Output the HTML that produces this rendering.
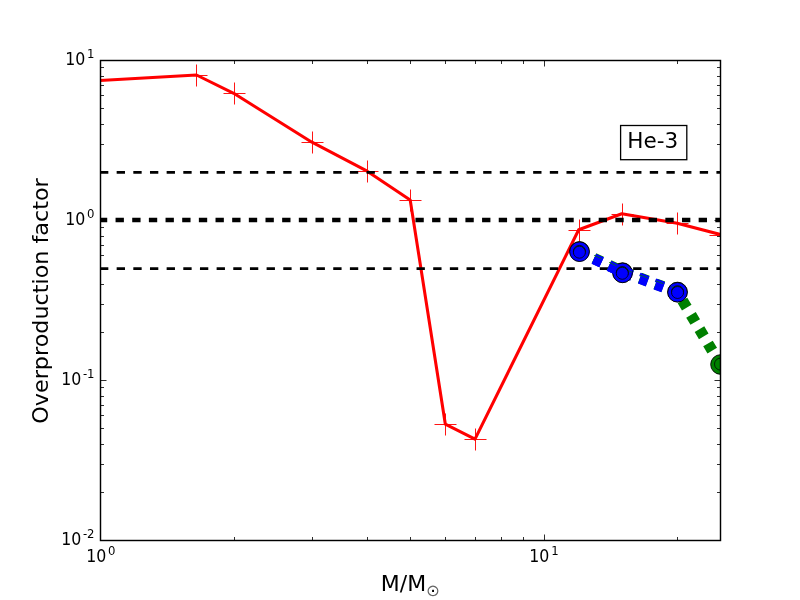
<!DOCTYPE html>
<html><head><meta charset="utf-8"><title>He-3 overproduction factor</title>
<style>html,body{margin:0;padding:0;background:#fff;overflow:hidden}svg{display:block;will-change:transform}text{font-family:"DejaVu Sans","Liberation Sans",sans-serif;fill:#000}</style></head><body>
<svg width="800" height="600" viewBox="0 0 800 600">
<rect width="800" height="600" fill="#fff"/>
<defs><clipPath id="ax"><rect x="100" y="60" width="620" height="480"/></clipPath></defs>
<g clip-path="url(#ax)">
<polyline points="100.00,80.60 196.50,75.00 233.70,93.30 311.90,142.20 367.20,171.20 410.20,199.90 445.30,424.10 475.00,439.10 578.70,229.80 621.80,213.80 677.20,223.20 720.30,234.50" fill="none" stroke="#f00" stroke-width="3.05" stroke-linejoin="round" stroke-linecap="butt"/>
<path d="M89.50 80.50H111.50M100.50 69.50V91.50M185.50 75.50H207.50M196.50 64.50V86.50M223.50 93.50H245.50M234.50 82.50V104.50M301.50 142.50H323.50M312.50 131.50V153.50M356.50 171.50H378.50M367.50 160.50V182.50M399.50 200.50H421.50M410.50 189.50V211.50M434.50 424.50H456.50M445.50 413.50V435.50M464.50 439.50H486.50M475.50 428.50V450.50M568.50 230.50H590.50M579.50 219.50V241.50M611.50 214.50H633.50M622.50 203.50V225.50M666.50 223.50H688.50M677.50 212.50V234.50M709.50 235.50H731.50M720.50 224.50V246.50" stroke="#f00" stroke-width="1" stroke-opacity="0.92" fill="none"/>
<line x1="100" x2="721" y1="172.29" y2="172.29" stroke="#000" stroke-width="2.78" stroke-dasharray="8.33 8.33"/>
<line x1="98.9" x2="721" y1="220.00" y2="220.00" stroke="#000" stroke-width="4.65" stroke-dasharray="8.33 8.33"/>
<line x1="100" x2="721" y1="268.61" y2="268.61" stroke="#000" stroke-width="2.78" stroke-dasharray="8.33 8.33"/>
<polyline points="579.50,251.55 622.50,271.65 677.50,292.05 720.50,364.55" fill="none" stroke="#008000" stroke-width="11.11" stroke-dasharray="8.33 8.33" stroke-dashoffset="0.70" stroke-opacity="1"/>
<circle cx="579.50" cy="251.40" r="9.80" fill="#008000" stroke="#000" stroke-width="0.9"/>
<circle cx="622.55" cy="272.60" r="9.80" fill="#008000" stroke="#000" stroke-width="0.9"/>
<circle cx="677.50" cy="292.00" r="9.80" fill="#008000" stroke="#000" stroke-width="0.9"/>
<circle cx="720.50" cy="364.50" r="9.80" fill="#008000" stroke="#000" stroke-width="0.9"/>
<polyline points="579.50,252.10 622.50,272.20 677.50,292.60" fill="none" stroke="#00f" stroke-width="10.61" stroke-dasharray="8.33 8.33" stroke-dashoffset="0.70" stroke-opacity="1"/>
<circle cx="579.50" cy="251.70" r="9.80" fill="#00f" stroke="#000" stroke-width="0.9"/>
<circle cx="622.55" cy="272.90" r="9.80" fill="#00f" stroke="#000" stroke-width="0.9"/>
<circle cx="677.50" cy="292.30" r="9.80" fill="#00f" stroke="#000" stroke-width="0.9"/>
<polyline points="579.50,252.10 622.50,272.20" fill="none" stroke="#00f" stroke-width="10.61" stroke-dasharray="8.33 8.33" stroke-dashoffset="0.70" stroke-opacity="1"/>
<polyline points="622.50,268.00 677.50,288.40" fill="none" stroke="#00f" stroke-width="3.60" stroke-dasharray="8.33 8.33" stroke-dashoffset="14.83" stroke-opacity="1"/>
<polyline points="579.50,248.50 622.50,268.60 677.50,289.00" fill="none" stroke="#008000" stroke-width="0.80" stroke-dasharray="8.33 8.33" stroke-dashoffset="0.70" stroke-opacity="0.95"/>
<circle cx="579.40" cy="251.40" r="6.00" fill="#008000" stroke="#000" stroke-width="0.75"/>
<circle cx="622.30" cy="272.50" r="6.00" fill="#008000" stroke="#000" stroke-width="0.75"/>
<circle cx="677.55" cy="291.70" r="6.00" fill="#008000" stroke="#000" stroke-width="0.75"/>
<circle cx="720.50" cy="364.10" r="6.00" fill="#008000" stroke="#000" stroke-width="0.75"/>
<circle cx="579.40" cy="252.20" r="6.00" fill="#00f" stroke="#000" stroke-width="0.75"/>
<circle cx="622.30" cy="273.30" r="6.00" fill="#00f" stroke="#000" stroke-width="0.75"/>
<circle cx="677.55" cy="292.50" r="6.00" fill="#00f" stroke="#000" stroke-width="0.75"/>
</g>
<path d="M100.5 540.5v-6.00M100.5 60.5v6.00M544.5 540.5v-6.00M544.5 60.5v6.00M100.5 540.5h6.00M720.5 540.5h-6.00M100.5 380.5h6.00M720.5 380.5h-6.00M100.5 220.5h6.00M720.5 220.5h-6.00M100.5 60.5h6.00M720.5 60.5h-6.00" stroke="#000" stroke-width="1" stroke-opacity="0.82" fill="none"/>
<path d="M234.5 540.5v-3.50M234.5 60.5v3.50M312.5 540.5v-3.50M312.5 60.5v3.50M367.5 540.5v-3.50M367.5 60.5v3.50M410.5 540.5v-3.50M410.5 60.5v3.50M445.5 540.5v-3.50M445.5 60.5v3.50M475.5 540.5v-3.50M475.5 60.5v3.50M501.5 540.5v-3.50M501.5 60.5v3.50M523.5 540.5v-3.50M523.5 60.5v3.50M677.5 540.5v-3.50M677.5 60.5v3.50M100.5 492.5h3.50M720.5 492.5h-3.50M100.5 464.5h3.50M720.5 464.5h-3.50M100.5 444.5h3.50M720.5 444.5h-3.50M100.5 428.5h3.50M720.5 428.5h-3.50M100.5 415.5h3.50M720.5 415.5h-3.50M100.5 405.5h3.50M720.5 405.5h-3.50M100.5 396.5h3.50M720.5 396.5h-3.50M100.5 387.5h3.50M720.5 387.5h-3.50M100.5 332.5h3.50M720.5 332.5h-3.50M100.5 304.5h3.50M720.5 304.5h-3.50M100.5 284.5h3.50M720.5 284.5h-3.50M100.5 268.5h3.50M720.5 268.5h-3.50M100.5 255.5h3.50M720.5 255.5h-3.50M100.5 245.5h3.50M720.5 245.5h-3.50M100.5 236.5h3.50M720.5 236.5h-3.50M100.5 227.5h3.50M720.5 227.5h-3.50M100.5 172.5h3.50M720.5 172.5h-3.50M100.5 144.5h3.50M720.5 144.5h-3.50M100.5 124.5h3.50M720.5 124.5h-3.50M100.5 108.5h3.50M720.5 108.5h-3.50M100.5 95.5h3.50M720.5 95.5h-3.50M100.5 85.5h3.50M720.5 85.5h-3.50M100.5 76.5h3.50M720.5 76.5h-3.50M100.5 67.5h3.50M720.5 67.5h-3.50" stroke="#000" stroke-width="1" stroke-opacity="0.82" fill="none"/>
<rect x="100.5" y="60.5" width="620" height="480" fill="none" stroke="#000" stroke-width="1.45"/>
<text transform="translate(65.20,65.00) scale(0.948,1.083)" font-size="16.67">10</text>
<text x="87.00" y="58.00" font-size="11.67">1</text>
<text transform="translate(65.20,225.00) scale(0.948,1.083)" font-size="16.67">10</text>
<text x="87.00" y="218.00" font-size="11.67">0</text>
<text transform="translate(61.20,385.00) scale(0.948,1.083)" font-size="16.67">10</text>
<text x="82.90" y="378.00" font-size="11.67">-1</text>
<text transform="translate(61.20,545.00) scale(0.948,1.083)" font-size="16.67">10</text>
<text x="82.90" y="538.00" font-size="11.67">-2</text>
<text transform="translate(86.20,562.00) scale(0.948,1.083)" font-size="16.67">10</text>
<text x="108.00" y="555.00" font-size="11.67">0</text>
<text transform="translate(529.20,562.00) scale(0.948,1.083)" font-size="16.67">10</text>
<text x="551.30" y="555.00" font-size="11.67">1</text>
<text transform="translate(380.75,590.6) scale(0.99,0.94)" font-size="22.22">M/M</text>
<text x="426.0" y="595.5" font-size="16.5" fill-opacity="0.62">⊙</text>
<text x="430.35" y="591.5" font-size="18">.</text>
<text transform="translate(47.7,301) rotate(-90) scale(1.003,0.94)" text-anchor="middle" font-size="22.22">Overproduction factor</text>
<rect x="620.6" y="125.5" width="66.2" height="34.2" fill="#fff" stroke="#000" stroke-width="1.3"/>
<text transform="translate(627.3,147.5) scale(0.97,0.93)" font-size="22.22">He-3</text>
</svg></body></html>
